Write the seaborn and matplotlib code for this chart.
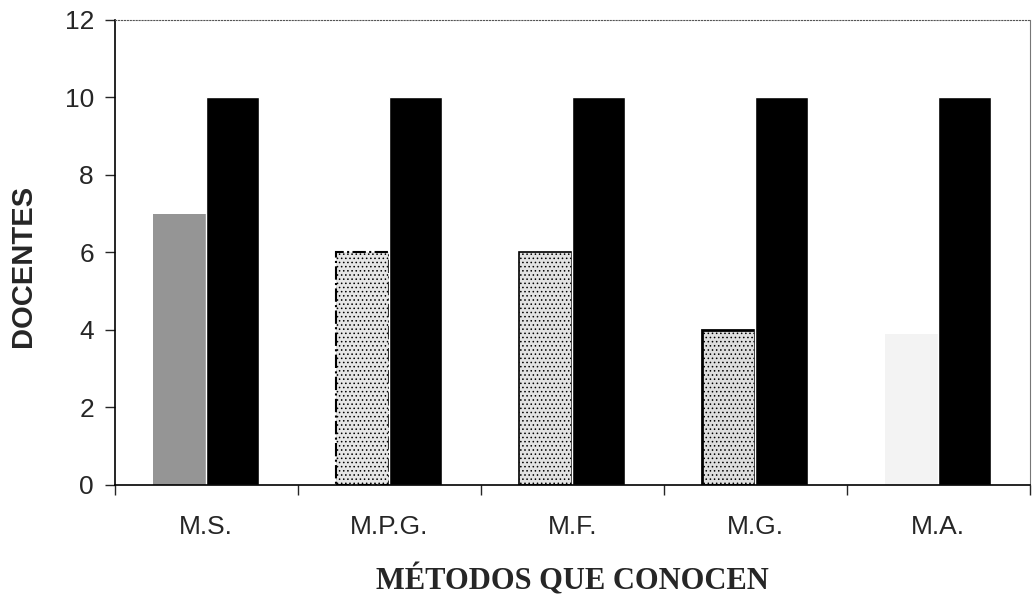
import numpy as np
import pandas as pd
import seaborn as sns
import matplotlib.pyplot as plt

# datos del grafico
metodos = ['M.S.', 'M.P.G.', 'M.F.', 'M.G.', 'M.A.']
conocen = [7, 6, 6, 4, 3.9]
total = [10, 10, 10, 10, 10]

df = pd.DataFrame({
    'metodo': metodos * 2,
    'serie': ['conocen'] * 5 + ['total'] * 5,
    'docentes': conocen + total,
})

sns.set_style('white')
plt.rcParams['font.family'] = ['Liberation Sans', 'DejaVu Sans']
plt.rcParams['hatch.linewidth'] = 0.6

fig = plt.figure(figsize=(10.34, 6.03), dpi=100)
ax = fig.add_axes([0.111, 0.196, 0.885, 0.771])

sns.barplot(data=df, x='metodo', y='docentes', hue='serie',
            palette=['#bbbbbb', 'black'], width=0.58, saturation=1,
            legend=False, ax=ax)

# texturas de las barras grises
estilos = [
    dict(fc='#959595', ec='#959595', hatch='', ls='-', lw=0),
    dict(fc='#e6e6e6', ec='black', hatch='....', ls='-.', lw=1.5),
    dict(fc='#e2e2e2', ec='black', hatch='....', ls='-', lw=1.2),
    dict(fc='#dedede', ec='black', hatch='....', ls='-', lw=2),
    dict(fc='#f3f3f3', ec='#f3f3f3', hatch='', ls='-', lw=0),
]
for p, st in zip(ax.patches[:5], estilos):
    p.set_facecolor(st['fc'])
    p.set_edgecolor(st['ec'])
    p.set_hatch(st['hatch'])
    p.set_linestyle(st['ls'])
    p.set_linewidth(st['lw'])

ax.set_xlim(-0.5, 4.5)
ax.set_ylim(0, 12)
ax.set_yticks(range(0, 13, 2))
ax.set_xticks(np.arange(-0.5, 5, 1), minor=True)
ax.tick_params(axis='x', which='major', length=0, pad=22, labelsize=19)
ax.tick_params(axis='x', which='minor', length=7, width=1, direction='out', bottom=True)
ax.tick_params(axis='y', length=7, width=1, direction='out', left=True, labelsize=19, pad=8)

for s in ['left', 'bottom']:
    ax.spines[s].set_color('black')
    ax.spines[s].set_linewidth(1.2)
ax.spines['top'].set_color('#555555')
ax.spines['top'].set_linestyle(':')
ax.spines['right'].set_color('#777777')

ax.set_ylabel('DOCENTES', fontsize=21, fontweight='bold')
ax.yaxis.set_label_coords(-0.085, 0.47)
ax.set_xlabel('MÉTODOS QUE CONOCEN', fontsize=22, fontweight='bold',
              family=['Liberation Serif', 'DejaVu Serif'], labelpad=18)

fig.savefig('out.png', dpi=100)
